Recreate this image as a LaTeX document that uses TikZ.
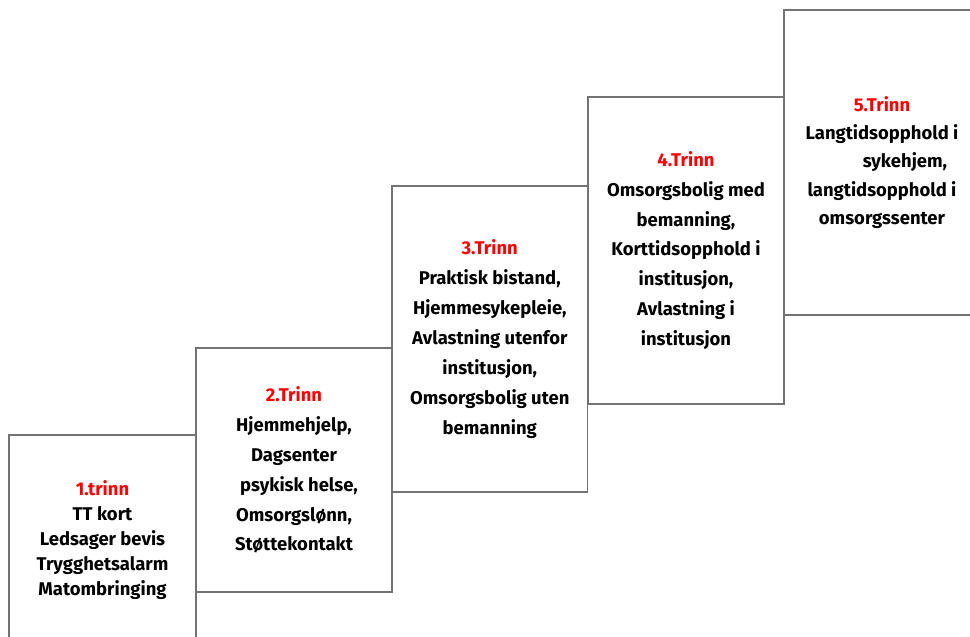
\documentclass[tikz,border=0pt]{standalone}
\usepackage{fontspec}
\setmainfont{Fira Sans}
\usepackage{xcolor}
\usepackage{tikz}
\usetikzlibrary{positioning}

\newcommand{\trinnhead}[1]{\textcolor{red}{#1}}

\begin{document}
\begin{tikzpicture}[x=0.02cm,y=-0.02cm,
  trinnbox/.style={draw=black!55, line width=0.7pt, inner sep=0pt, align=center,
    font={\bfseries\fontsize{10.5}{17}\selectfont}}]

\useasboundingbox (0,0) rectangle (970,636);
\clip (0,0) rectangle (970,636);

\node[trinnbox, minimum width=3.74cm, minimum height=4.2cm,
  font={\bfseries\fontsize{10.5}{14.2}\selectfont}](trinn1) at (102.5,540)
  {\trinnhead{1.trinn}\\TT kort\\Ledsager bevis\\Trygghetsalarm\\Matombringing};

\node[trinnbox, minimum width=3.92cm, minimum height=4.88cm](trinn2) at (294,470)
  {\trinnhead{2.Trinn}\\Hjemmehjelp,\\Dagsenter\\\hspace*{0.2cm}psykisk helse,\\Omsorgslønn,\\Støttekontakt};

\node[trinnbox, minimum width=3.91cm, minimum height=6.12cm](trinn3) at (489.75,339)
  {\trinnhead{3.Trinn}\\Praktisk bistand,\\Hjemmesykepleie,\\Avlastning utenfor\\institusjon,\\Omsorgsbolig uten\\bemanning};

\node[trinnbox, minimum width=3.92cm, minimum height=6.14cm](trinn4) at (686,250.5)
  {\trinnhead{4.Trinn}\\Omsorgsbolig med\\bemanning,\\Korttidsopphold i\\institusjon,\\Avlastning i\\institusjon};

\node[trinnbox, minimum width=3.92cm, minimum height=6.1cm,
  font={\bfseries\fontsize{10.5}{16}\selectfont}](trinn5) at (882,162.5)
  {\trinnhead{5.Trinn}\\Langtidsopphold i\\\hspace*{0.92cm}sykehjem,\\langtidsopphold i\\omsorgssenter};

\end{tikzpicture}
\end{document}
